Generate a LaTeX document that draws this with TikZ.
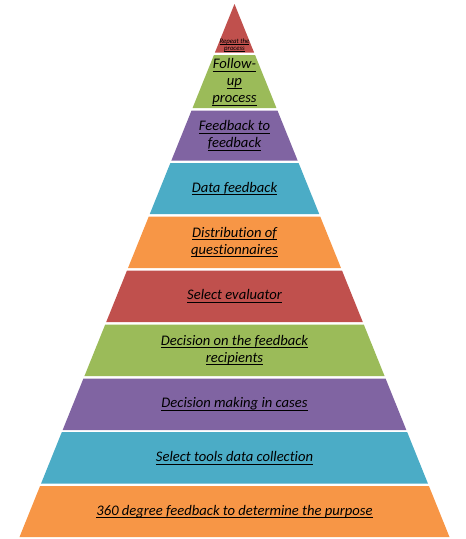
\documentclass[tikz,border=0pt]{standalone}
\usepackage{fontspec}
\setmainfont{Carlito}[Ligatures={NoCommon}]
\newcommand\myul[1]{\leavevmode\setbox0\hbox{#1}\rlap{\rule[-0.2em]{\wd0}{0.065em}}\box0}
\definecolor{cred}{HTML}{C0504D}
\definecolor{cgreen}{HTML}{9BBB59}
\definecolor{cpurple}{HTML}{8064A2}
\definecolor{caqua}{HTML}{4BACC6}
\definecolor{corange}{HTML}{F79646}
\begin{document}
\begin{tikzpicture}[x=1pt,y=-1pt,
  lab/.style={font=\fontsize{14.6}{17}\selectfont\itshape, align=center, text=black, inner sep=0pt},
  tiny/.style={font=\fontsize{6.8}{7}\selectfont\itshape, align=center, text=black, inner sep=0pt}]
\useasboundingbox (0,0) rectangle (466,539);
\def\cx{234.5}
\foreach \t/\b/\c in {4/52.5/cred, 55/108/cgreen, 110.5/160.5/cpurple, 163/214/caqua, 216.5/268/corange, 270.5/322/cred, 324.5/376/cgreen, 378.5/430/cpurple, 432/483.5/caqua, 486/537/corange} {
  \pgfmathsetmacro\wt{0.40338*(\t-4)}
  \pgfmathsetmacro\wb{0.40338*(\b-4)}
  \fill[\c] (\cx-\wt,\t) -- (\cx+\wt,\t) -- (\cx+\wb,\b) -- (\cx-\wb,\b) -- cycle;
}
\node[tiny] (t1) at (\cx,45) {\myul{Repeat the}\\\myul{process}};
\node[lab] (t2) at (\cx,82) {\myul{Follow-}\\\myul{up}\\\myul{process}};
\node[lab] (t3) at (\cx,135.5) {\myul{Feedback to}\\\myul{feedback}};
\node[lab] (t4) at (\cx,188.5) {\myul{Data feedback}};
\node[lab] (t5) at (\cx,242) {\myul{Distribution of}\\\myul{questionnaires}};
\node[lab] (t6) at (\cx,296) {\myul{Select evaluator}};
\node[lab] (t7) at (\cx,350) {\myul{Decision on the feedback}\\\myul{recipients}};
\node[lab] (t8) at (\cx,404) {\myul{Decision making in cases}};
\node[lab] (t9) at (\cx,458) {\myul{Select tools data collection}};
\node[lab] (t10) at (\cx,511.5) {\myul{360 degree feedback to determine the purpose}};
\end{tikzpicture}
\end{document}
